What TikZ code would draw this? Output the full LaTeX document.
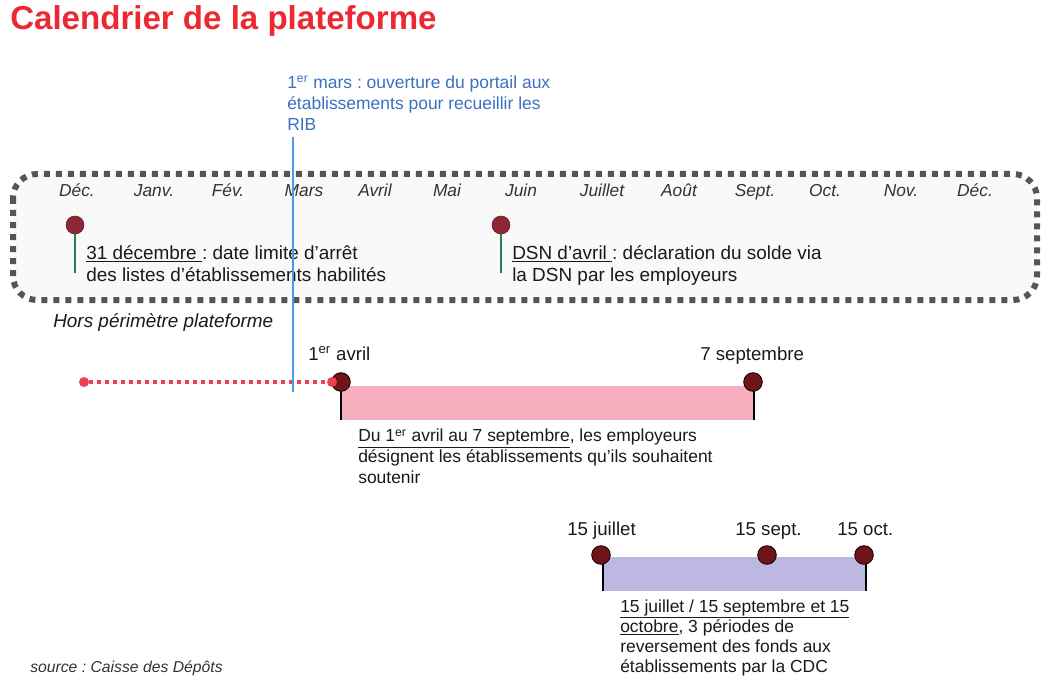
\documentclass[tikz,border=0pt]{standalone}
\usepackage{fontspec}
\setmainfont{Liberation Sans}
\frenchspacing
\definecolor{titlered}{HTML}{EC2832}
\definecolor{bluetxt}{HTML}{3C70C2}
\definecolor{blueline}{HTML}{4A9BE0}
\definecolor{boxgray}{HTML}{555555}
\definecolor{boxfill}{HTML}{F9F9F9}
\definecolor{pinred}{HTML}{8E2634}
\definecolor{pingreen}{HTML}{2E7B5C}
\definecolor{darkpin}{HTML}{6F1419}
\definecolor{pinkbar}{HTML}{F7AFBF}
\definecolor{lavbar}{HTML}{BDB8E1}
\definecolor{dotred}{HTML}{EC4058}
\definecolor{txt}{HTML}{1A1A1A}
\definecolor{month}{HTML}{333333}
\begin{document}
\frenchspacing
\begin{tikzpicture}[x=0.75pt,y=-0.75pt,
  tx/.style={inner sep=0pt, anchor=base west, align=left, text=txt},
  boxtxt/.style={tx, font=\fontsize{14.2}{16}\selectfont},
  lowtxt/.style={tx, font=\fontsize{13.1}{15.4}\selectfont},
  datelbl/.style={tx, font=\fontsize{14}{16}\selectfont},
  monthlbl/.style={inner sep=0pt, anchor=base, text=month, font=\fontsize{13}{15}\itshape},
  pinA/.style={circle, fill=pinred, draw=pinred!70!black, line width=0.4pt, minimum size=13.5pt, inner sep=0pt},
  pinB/.style={circle, fill=darkpin, draw=black, line width=0.6pt, minimum size=14pt, inner sep=0pt},
  stemA/.style={pingreen, line width=0.9pt},
  stemB/.style={black, line width=1.5pt},
  enddot/.style={circle, fill=dotred, minimum size=7.5pt, inner sep=0pt}]
\useasboundingbox (0,0) rectangle (1053,681);

% title
\node[inner sep=0pt, anchor=base west, text=titlered, font=\fontsize{24.8}{30}\bfseries\selectfont] (title) at (10,30) {Calendrier de la plateforme};

% dotted box
\draw[boxgray, line width=4.5pt, dash pattern=on 4.5pt off 4.5pt, rounded corners=18pt, fill=boxfill] (13,174) rectangle (1037,300);

% months
\node[monthlbl] (m1) at (77,196) {Déc.};
\node[monthlbl] (m2) at (154,196) {Janv.};
\node[monthlbl] (m3) at (228,196) {Fév.};
\node[monthlbl] (m4) at (304,196) {Mars};
\node[monthlbl] (m5) at (375,196) {Avril};
\node[monthlbl] (m6) at (447,196) {Mai};
\node[monthlbl] (m7) at (521,196) {Juin};
\node[monthlbl] (m8) at (602,196) {Juillet};
\node[monthlbl] (m9) at (679,196) {Août};
\node[monthlbl] (m10) at (755,196) {Sept.};
\node[monthlbl] (m11) at (825,196) {Oct.};
\node[monthlbl] (m12) at (901,196) {Nov.};
\node[monthlbl] (m13) at (975,196) {Déc.};

% pins in box
\coordinate (p1e) at (75,273);
\coordinate (p2e) at (501,273);
\node[pinA] (p1) at (75,225) {};
\node[pinA] (p2) at (501,225) {};
\draw[stemA] (p1.south) -- (p1e);
\draw[stemA] (p2.south) -- (p2e);
\node[boxtxt] (t1) at (86,281) {\underline{31 décembre\ }: date limite d’arrêt\\des listes d’établissements habilités};
\node[boxtxt] (t2) at (512,281) {\underline{DSN d’avril\ }: déclaration du solde via\\la DSN par les employeurs};

\node[inner sep=0pt, anchor=base west, text=txt, font=\fontsize{14.2}{16}\itshape] (hors) at (53,327) {Hors périmètre plateforme};

% portal
\node[inner sep=0pt, anchor=base west, align=left, text=bluetxt, font=\fontsize{13.1}{16}\selectfont] (portal) at (287,131) {1\textsuperscript{er} mars : ouverture du portail aux\\établissements pour recueillir les\\RIB};
\coordinate (mtop) at (293,137);
\coordinate (mbot) at (293,392);

% pink period
\fill[pinkbar] (340,386) rectangle (754,420);
\coordinate (a1e) at (341,420);
\coordinate (a2e) at (754,420);
\draw[stemB] (341,383) -- (a1e);
\draw[stemB] (754,383) -- (a2e);
\node[pinB] (a1) at (341,382) {};
\node[pinB] (a2) at (753,382) {};
\node[enddot] (r0) at (84,382) {};
\node[enddot] (r1) at (332,382) {};
\draw[dotred, line width=3pt, dash pattern=on 3pt off 3pt] (r0) -- (r1);
\node[datelbl] (la1) at (308,360) {1\textsuperscript{er} avril};
\node[datelbl] (la2) at (700,360) {7 septembre};
\node[lowtxt] (ta) at (358,483) {\underline{Du 1\textsuperscript{er} avril au 7 septembre}, les employeurs\\désignent les établissements qu’ils souhaitent\\soutenir};

% lavender period
\fill[lavbar] (603,557) rectangle (867,591);
\coordinate (b1e) at (603,591);
\coordinate (b3e) at (866,591);
\draw[stemB] (603,555) -- (b1e);
\draw[stemB] (866,555) -- (b3e);
\node[pinB] (b1) at (601,555) {};
\node[pinB] (b2) at (767,555) {};
\node[pinB] (b3) at (864,555) {};
\node[datelbl] (lb1) at (567,535) {15 juillet};
\node[datelbl] (lb2) at (735,535) {15 sept.};
\node[datelbl] (lb3) at (837,535) {15 oct.};
\node[lowtxt, font=\fontsize{13.1}{15}\selectfont] (tb) at (620,672) {\underline{15 juillet / 15 septembre et 15}\\\underline{octobre}, 3 périodes de\\reversement des fonds aux\\établissements par la CDC};

% source
\node[inner sep=0pt, anchor=base west, text=month, font=\fontsize{11.8}{14}\itshape] (src) at (30,672) {source : Caisse des Dépôts};

% blue marker line
\draw[blueline, line width=0.8pt] (mtop) -- (mbot);
\end{tikzpicture}
\end{document}
